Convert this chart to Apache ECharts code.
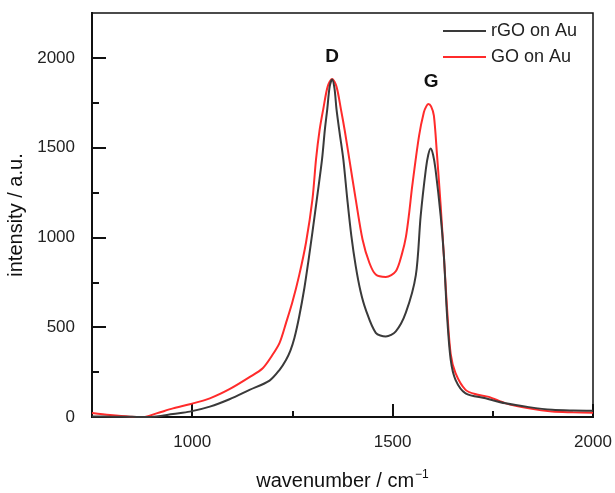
<!DOCTYPE html>
<html lang="en">
<head>
    <meta charset="UTF-8"/>
    <title>raman</title>
    <script src="https://cdn.jsdelivr.net/npm/echarts@6/dist/echarts.min.js"></script>
</head>
<body style="margin:0">

<div id="main" style="width: 615px;height:493px;"></div>

<script type="text/javascript">
    // Raman spectra
    var rgoX = [750, 800, 850, 878, 911, 952, 994, 1044, 1093, 1143, 1193, 1218, 1234, 1245, 1255, 1267, 1280, 1290, 1300, 1312,
        1324, 1331, 1337, 1343, 1349, 1355, 1360, 1368, 1377, 1387, 1397, 1408, 1420, 1433, 1458, 1483, 1508, 1533, 1558, 1570,
        1583, 1589, 1595, 1601, 1607, 1620, 1628, 1636, 1645, 1657, 1682, 1732, 1782, 1840, 1898, 1950, 2000];
    var rgoY = [3, 2, 1, 0, 3, 17, 30, 58, 99, 151, 203, 263, 318, 370, 440, 560, 720, 870, 1030, 1230,
        1436, 1600, 1715, 1840, 1880, 1830, 1715, 1580, 1436, 1212, 1010, 840, 700, 598, 469, 449, 477, 581, 790, 1119,
        1380, 1460, 1495, 1460, 1380, 1119, 896, 560, 318, 207, 132, 104, 76, 55, 40, 36, 35];

    var goX = [750, 795, 845, 878, 911, 952, 994, 1044, 1093, 1143, 1176, 1200, 1218, 1234, 1250, 1267, 1284, 1300, 1309, 1318,
        1327, 1338, 1349, 1360, 1371, 1381, 1392, 1408, 1425, 1442, 1458, 1483, 1508, 1524, 1533, 1541, 1549, 1566, 1578, 1584,
        1589, 1596, 1603, 1611, 1620, 1630, 1636, 1645, 1657, 1682, 1710, 1740, 1782, 1840, 1898, 1950, 2000];
    var goY = [22, 11, 2, 0, 20, 48, 71, 104, 155, 222, 272, 345, 413, 523, 640, 790, 972, 1212, 1436, 1600,
        1715, 1840, 1883, 1840, 1715, 1590, 1436, 1212, 989, 859, 793, 780, 812, 914, 1000, 1130, 1287, 1566, 1697, 1730,
        1743, 1730, 1678, 1454, 1175, 821, 600, 350, 244, 151, 125, 112, 76, 48, 30, 26, 24];

    var xMajor = [1000, 1500, 2000];
    var xMinor = [1250, 1750];
    var yMajor = [0, 500, 1000, 1500, 2000];
    var yMinor = [250, 750, 1250, 1750];

    function pairs(xs, ys) {
        var out = [];
        for (var i = 0; i < xs.length; i++) out.push([xs[i], ys[i]]);
        return out;
    }

    function plain(v) {
        return String(v);
    }

    var myChart = echarts.init(document.getElementById('main'));
    var font = 'Liberation Sans, Arial, sans-serif';

    var baseX = {
        type: 'value', min: 750, max: 2000, position: 'bottom',
        axisLine: {show: true, onZero: false, lineStyle: {color: '#111', width: 2}},
        splitLine: {show: false}
    };
    var baseY = {
        type: 'value', min: 0, max: 2250, position: 'left',
        axisLine: {show: true, onZero: false, lineStyle: {color: '#111', width: 2}},
        splitLine: {show: false}
    };

    option = {
        animation: false,
        grid: {
            left: 92, top: 13, right: 22, bottom: 76, show: true, borderColor: '#111', borderWidth: 1.5,
            outerBoundsMode: 'none', containLabel: false
        },
        legend: {
            orient: 'vertical', left: 438, top: 17, itemWidth: 43, itemHeight: 2, itemGap: 8,
            icon: 'rect',
            textStyle: {fontFamily: font, fontSize: 18, color: '#222'},
            data: ['rGO on Au', 'GO on Au']
        },
        xAxis: [
            echarts.util.merge({
                name: '{a|wavenumber / cm}{b|\u22121}', nameLocation: 'middle', nameGap: 52,
                nameTextStyle: {
                    fontFamily: font, color: '#111',
                    rich: {
                        a: {fontFamily: font, fontSize: 20, color: '#111'},
                        b: {fontFamily: font, fontSize: 12, color: '#111', padding: [0, 0, 12, 1]}
                    }
                },
                axisTick: {show: true, inside: true, length: 13, customValues: xMajor, lineStyle: {color: '#111', width: 2}},
                axisLabel: {
                    show: true, customValues: xMajor, margin: 17, formatter: plain,
                    fontFamily: font, fontSize: 17, color: '#222'
                }
            }, baseX, true),
            echarts.util.merge({
                axisTick: {show: true, inside: true, length: 6, customValues: xMinor, lineStyle: {color: '#111', width: 2}},
                axisLabel: {show: false}
            }, baseX, true)
        ],
        yAxis: [
            echarts.util.merge({
                name: 'intensity / a.u.', nameLocation: 'middle', nameGap: 57,
                nameTextStyle: {fontFamily: font, fontSize: 20, color: '#111'},
                axisTick: {show: true, inside: true, length: 14, customValues: yMajor, lineStyle: {color: '#111', width: 2}},
                axisLabel: {
                    show: true, customValues: yMajor, margin: 17, formatter: plain,
                    fontFamily: font, fontSize: 17, color: '#222'
                }
            }, baseY, true),
            echarts.util.merge({
                axisTick: {show: true, inside: true, length: 7, customValues: yMinor, lineStyle: {color: '#111', width: 2}},
                axisLabel: {show: false}
            }, baseY, true)
        ],
        series: [
            {
                name: 'rGO on Au', type: 'line', data: pairs(rgoX, rgoY),
                smooth: 0.3, showSymbol: false,
                itemStyle: {color: '#3a3a3a'}, lineStyle: {color: '#3a3a3a', width: 2},
                z: 3
            },
            {
                name: 'GO on Au', type: 'line', data: pairs(goX, goY),
                smooth: 0.3, showSymbol: false,
                itemStyle: {color: '#ff2b2b'}, lineStyle: {color: '#ff2b2b', width: 2},
                z: 2,
                markPoint: {
                    symbol: 'circle', symbolSize: 0, silent: true,
                    label: {
                        show: true, position: 'top', distance: 13, formatter: '{b}',
                        fontFamily: font, fontSize: 19, fontWeight: 'bold', color: '#111'
                    },
                    data: [
                        {name: 'D', coord: [1349, 1883]},
                        {name: 'G', coord: [1596, 1743]}
                    ]
                }
            }
        ]
    };

    myChart.setOption(option);
</script>
</body>
</html>
